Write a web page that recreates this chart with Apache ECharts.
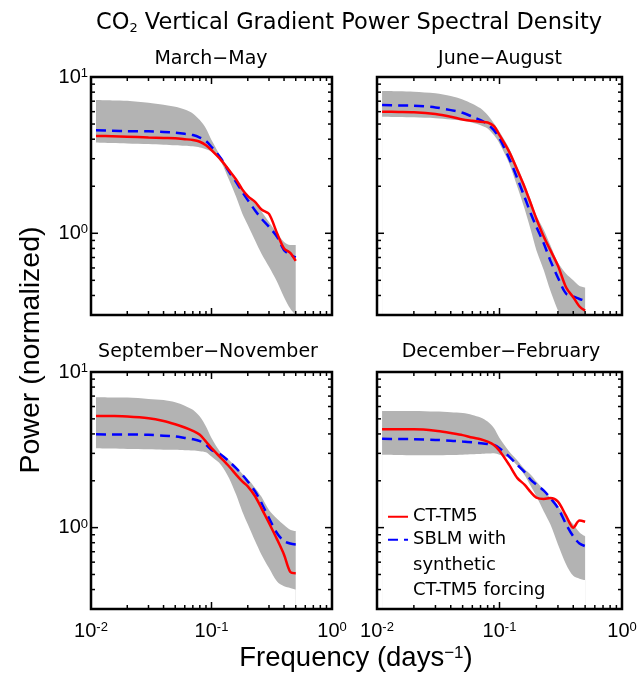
<!DOCTYPE html>
<html>
<head>
<meta charset="utf-8">
<script src="https://cdn.jsdelivr.net/npm/echarts@6/dist/echarts.min.js"></script>
<style>
html, body { margin: 0; padding: 0; background: #fff; }
#chart { width: 641px; height: 677px; }
</style>
</head>
<body>
<div id="chart"></div>
<script>
// frequency (days^-1) shared by all panels
var freq = [0.011, 0.015, 0.02, 0.03, 0.04, 0.05, 0.06, 0.07, 0.08, 0.09, 0.1, 0.12, 0.14, 0.16, 0.18, 0.2, 0.23, 0.26, 0.3, 0.35, 0.4, 0.45, 0.5];

var panelTitles = ['March\u2212May', 'June\u2212August', 'September\u2212November', 'December\u2212February'];
var seriesNames = ['CT-TM5', 'SBLM with synthetic CT-TM5 forcing'];
var legendLines = ['SBLM with', 'synthetic', 'CT-TM5 forcing'];

// March-May
var mamCT = [4.2, 4.18, 4.15, 4.1, 4.07, 4.05, 4.0, 3.95, 3.85, 3.66, 3.4, 2.94, 2.53, 2.21, 1.91, 1.73, 1.59, 1.42, 1.33, 1.0, 0.80, 0.75, 0.665];
var mamSBLM = [4.57, 4.53, 4.5, 4.49, 4.45, 4.4, 4.33, 4.25, 4.1, 3.89, 3.57, 3.01, 2.47, 2.13, 1.84, 1.63, 1.40, 1.24, 1.10, 0.95, 0.78, 0.73, 0.70];
var mamHigh = [7.12, 7.08, 7.05, 6.84, 6.65, 6.45, 6.2, 5.85, 5.3, 4.69, 3.95, 3.08, 2.6, 2.25, 1.95, 1.78, 1.57, 1.38, 1.18, 1.0, 0.88, 0.84, 0.84];
var mamLow = [3.81, 3.78, 3.76, 3.72, 3.69, 3.66, 3.63, 3.6, 3.54, 3.45, 3.32, 2.86, 2.19, 1.71, 1.34, 1.13, 0.90, 0.74, 0.61, 0.49, 0.39, 0.33, 0.30];

// June-August
var jjaCT = [6.0, 5.98, 5.95, 5.79, 5.57, 5.35, 5.25, 5.17, 5.12, 4.85, 4.25, 3.32, 2.53, 1.98, 1.55, 1.24, 0.95, 0.78, 0.62, 0.45, 0.39, 0.34, 0.32];
var jjaSBLM = [6.62, 6.58, 6.55, 6.39, 6.14, 5.9, 5.57, 5.3, 4.98, 4.57, 4.05, 3.01, 2.24, 1.71, 1.34, 1.10, 0.86, 0.67, 0.52, 0.41, 0.395, 0.38, 0.37];
var jjaHigh = [8.13, 8.1, 8.05, 7.86, 7.55, 7.19, 6.75, 6.3, 5.71, 5.05, 4.46, 3.49, 2.66, 2.08, 1.63, 1.30, 1.05, 0.84, 0.65, 0.55, 0.50, 0.46, 0.45];
var jjaLow = [5.57, 5.55, 5.52, 5.45, 5.35, 5.26, 5.1, 4.92, 4.69, 4.25, 3.76, 2.8, 1.98, 1.44, 1.05, 0.78, 0.58, 0.43, 0.32, 0.25, 0.2, 0.17, 0.15];

// September-November
var sonCT = [5.22, 5.21, 5.18, 5.05, 4.85, 4.62, 4.4, 4.19, 3.95, 3.57, 3.24, 2.8, 2.47, 2.19, 1.98, 1.84, 1.59, 1.33, 1.07, 0.84, 0.67, 0.52, 0.51];
var sonSBLM = [3.98, 3.97, 3.97, 3.95, 3.9, 3.85, 3.77, 3.7, 3.6, 3.4, 3.16, 2.94, 2.66, 2.41, 2.19, 1.98, 1.71, 1.44, 1.15, 0.92, 0.82, 0.79, 0.78];
var sonHigh = [6.88, 6.86, 6.85, 6.71, 6.6, 6.39, 6.08, 5.71, 5.17, 4.46, 3.76, 3.01, 2.72, 2.45, 2.22, 2.05, 1.8, 1.58, 1.3, 1.14, 1.04, 0.97, 0.95];
var sonLow = [3.24, 3.22, 3.2, 3.19, 3.17, 3.16, 3.14, 3.13, 3.1, 3.05, 2.86, 2.53, 2.08, 1.63, 1.27, 1.05, 0.82, 0.67, 0.55, 0.45, 0.42, 0.41, 0.40];

// December-February
var djfCT = [4.29, 4.29, 4.29, 4.2, 4.05, 3.93, 3.79, 3.7, 3.57, 3.4, 3.12, 2.53, 2.08, 1.89, 1.69, 1.56, 1.53, 1.55, 1.47, 1.19, 1.0, 1.11, 1.09];
var djfSBLM = [3.72, 3.71, 3.7, 3.66, 3.62, 3.57, 3.53, 3.49, 3.45, 3.4, 3.24, 2.86, 2.53, 2.28, 2.03, 1.89, 1.73, 1.55, 1.34, 1.05, 0.88, 0.79, 0.76];
var djfHigh = [5.62, 5.62, 5.62, 5.57, 5.52, 5.45, 5.3, 5.1, 4.8, 4.36, 3.76, 3.08, 2.7, 2.38, 2.19, 1.98, 1.75, 1.55, 1.37, 1.18, 1.05, 0.93, 0.88];
var djfLow = [2.94, 2.93, 2.92, 2.92, 2.93, 2.94, 2.96, 2.97, 2.99, 3.01, 2.94, 2.8, 2.5, 2.18, 1.85, 1.59, 1.27, 1.05, 0.78, 0.58, 0.49, 0.47, 0.46];

// axis ranges and ticks
var xRange = [0.01, 1];
var yRange = [0.3, 10];
var xMajorTicks = [0.01, 0.1, 1];
var xMinorTicks = [0.02, 0.03, 0.04, 0.05, 0.06, 0.07, 0.08, 0.09, 0.2, 0.3, 0.4, 0.5, 0.6, 0.7, 0.8, 0.9];
var yMajorTicks = [1, 10];
var yMinorTicks = [0.4, 0.5, 0.6, 0.7, 0.8, 0.9, 2, 3, 4, 5, 6, 7, 8, 9];

var panels = [
    { ct: mamCT, sblm: mamSBLM, high: mamHigh, low: mamLow },
    { ct: jjaCT, sblm: jjaSBLM, high: jjaHigh, low: jjaLow },
    { ct: sonCT, sblm: sonSBLM, high: sonHigh, low: sonLow },
    { ct: djfCT, sblm: djfSBLM, high: djfHigh, low: djfLow }
];

var myChart = echarts.init(document.getElementById('chart'));

function pairs(ys) {
    return freq.map(function (f, i) { return [f, ys[i]]; });
}

function tickItems() {
    var items = [];
    xMinorTicks.forEach(function (v) { items.push([v, 1, 0, 0]); });
    xMajorTicks.forEach(function (v) { items.push([v, 1, 1, 0]); });
    yMinorTicks.forEach(function (v) { items.push([0.1, v, 0, 1]); });
    yMajorTicks.forEach(function (v) { items.push([0.1, v, 1, 1]); });
    return items;
}

function renderTick(params, api) {
    var len = api.value(2) ? 7 : 4;
    var style = { stroke: '#000', lineWidth: 1.5 };
    var a, b;
    if (api.value(3) === 0) {
        a = api.coord([api.value(0), yRange[0]]);
        b = api.coord([api.value(0), yRange[1]]);
        return { type: 'group', children: [
            { type: 'line', shape: { x1: a[0], y1: a[1], x2: a[0], y2: a[1] - len }, style: style },
            { type: 'line', shape: { x1: b[0], y1: b[1], x2: b[0], y2: b[1] + len }, style: style }
        ] };
    }
    a = api.coord([xRange[0], api.value(1)]);
    b = api.coord([xRange[1], api.value(1)]);
    return { type: 'group', children: [
        { type: 'line', shape: { x1: a[0], y1: a[1], x2: a[0] + len, y2: a[1] }, style: style },
        { type: 'line', shape: { x1: b[0], y1: b[1], x2: b[0] - len, y2: b[1] }, style: style }
    ] };
}

function powerLabel(v) {
    var l = Math.log(v) / Math.LN10;
    var e = Math.round(l);
    if (Math.abs(l - e) > 1e-6) return '';
    return '{b|10}{sup|' + e + '}';
}

var labelRich = {
    b: { fontSize: 20, fontFamily: 'Liberation Sans', color: '#000', lineHeight: 20, verticalAlign: 'bottom' },
    sup: { fontSize: 13, fontFamily: 'Liberation Sans', color: '#000', lineHeight: 13, padding: [0, 0, 11, 0], verticalAlign: 'top' }
};

var grids = [
    { left: 91, top: 77, width: 241, height: 238 },
    { left: 377, top: 77, width: 245, height: 238 },
    { left: 91, top: 372, width: 241, height: 237 },
    { left: 377, top: 372, width: 245, height: 237 }
];
grids.forEach(function (g) {
    g.show = true;
    g.borderColor = '#000';
    g.borderWidth = 2.5;
    g.backgroundColor = 'transparent';
    g.z = 10;
});

var xAxes = [], yAxes = [], series = [];
panels.forEach(function (p, i) {
    xAxes.push({
        type: 'log', logBase: 10, gridIndex: i, min: xRange[0], max: xRange[1],
        axisLine: { show: false }, axisTick: { show: false }, splitLine: { show: false },
        axisLabel: { show: i >= 2, formatter: powerLabel, rich: labelRich, margin: 12, showMinLabel: true, showMaxLabel: true }
    });
    yAxes.push({
        type: 'log', logBase: 10, gridIndex: i, min: yRange[0], max: yRange[1],
        axisLine: { show: false }, axisTick: { show: false }, splitLine: { show: false },
        axisLabel: { show: i % 2 === 0, formatter: powerLabel, rich: labelRich, margin: 3, showMinLabel: true, showMaxLabel: true }
    });
    // grey spread: filled up to the upper bound, then masked in white below the lower bound
    series.push({
        type: 'line', xAxisIndex: i, yAxisIndex: i, data: pairs(p.high),
        symbol: 'none', smooth: 0.3, lineStyle: { width: 0, opacity: 0 },
        areaStyle: { color: '#b3b3b3', opacity: 1, origin: 'start' }, silent: true, z: 1
    });
    series.push({
        type: 'line', xAxisIndex: i, yAxisIndex: i, data: pairs(p.low),
        symbol: 'none', smooth: 0.3, lineStyle: { width: 0, opacity: 0 },
        areaStyle: { color: '#ffffff', opacity: 1, origin: 'start' }, silent: true, z: 2
    });
    series.push({
        name: seriesNames[1], type: 'line', xAxisIndex: i, yAxisIndex: i, data: pairs(p.sblm),
        symbol: 'none', smooth: 0.3, lineStyle: { color: '#0000ff', width: 2.5, type: [10, 6] },
        itemStyle: { color: '#0000ff' }, silent: true, z: 3
    });
    series.push({
        name: seriesNames[0], type: 'line', xAxisIndex: i, yAxisIndex: i, data: pairs(p.ct),
        symbol: 'none', smooth: 0.3, lineStyle: { color: '#ff0000', width: 2.5 },
        itemStyle: { color: '#ff0000' }, silent: true, z: 4
    });
    series.push({
        type: 'custom', xAxisIndex: i, yAxisIndex: i, data: tickItems(),
        encode: { x: 0, y: 1 }, renderItem: renderTick, silent: true, z: 6, clip: false
    });
});

var legendText = { fontFamily: 'DejaVu Sans', fontSize: 18, color: '#000', lineHeight: 25.5 };

var titleStyle = { fontFamily: 'DejaVu Sans', fontSize: 19, fill: '#000', align: 'center', verticalAlign: 'top' };
function panelTitle(text, x, y) {
    return { type: 'text', x: x, y: y, silent: true, style: Object.assign({ text: text }, titleStyle) };
}

var option = {
    animation: false,
    backgroundColor: '#fff',
    grid: grids,
    xAxis: xAxes,
    yAxis: yAxes,
    series: series,
    legend: [
        {
            data: [seriesNames[0]], left: 387, top: 504, padding: 0, itemWidth: 20, itemHeight: 14,
            selectedMode: false, itemStyle: { opacity: 0 }, textStyle: legendText
        },
        {
            // two empty lines on top put the first text line level with the icon
            data: [seriesNames[1]], left: 387, top: 476, padding: 0, itemWidth: 20, itemHeight: 14,
            selectedMode: false, itemStyle: { opacity: 0 },
            formatter: function () { return '\n\n' + legendLines.join('\n'); },
            textStyle: legendText
        }
    ],
    graphic: [
        {
            type: 'text', x: 349, y: 10, silent: true,
            style: {
                text: 'CO{sub|2} Vertical Gradient Power Spectral Density',
                fontFamily: 'DejaVu Sans', fontSize: 22.5, lineHeight: 26, fill: '#000',
                align: 'center', verticalAlign: 'top',
                rich: { sub: { fontFamily: 'DejaVu Sans', fontSize: 13, lineHeight: 13, padding: [12, 0, 0, 0], fill: '#000' } }
            }
        },
        panelTitle(panelTitles[0], 211, 50),
        panelTitle(panelTitles[1], 500, 50),
        panelTitle(panelTitles[2], 208, 343),
        panelTitle(panelTitles[3], 501, 343),
        {
            type: 'text', x: 31, y: 350, rotation: Math.PI / 2, silent: true,
            style: { text: 'Power (normalized)', fontFamily: 'Liberation Sans', fontSize: 28.5, fill: '#000', align: 'center', verticalAlign: 'middle' }
        },
        {
            type: 'text', x: 356, y: 645, silent: true,
            style: {
                text: '{b|Frequency (days}{sup|\u22121}{b|)}', align: 'center', verticalAlign: 'top',
                rich: {
                    b: { fontFamily: 'Liberation Sans', fontSize: 27.5, lineHeight: 27, verticalAlign: 'bottom', fill: '#000' },
                    sup: { fontFamily: 'Liberation Sans', fontSize: 17, lineHeight: 17, padding: [0, 0, 12, 0], verticalAlign: 'top', fill: '#000' }
                }
            }
        }
    ]
};

myChart.setOption(option);
</script>
</body>
</html>
